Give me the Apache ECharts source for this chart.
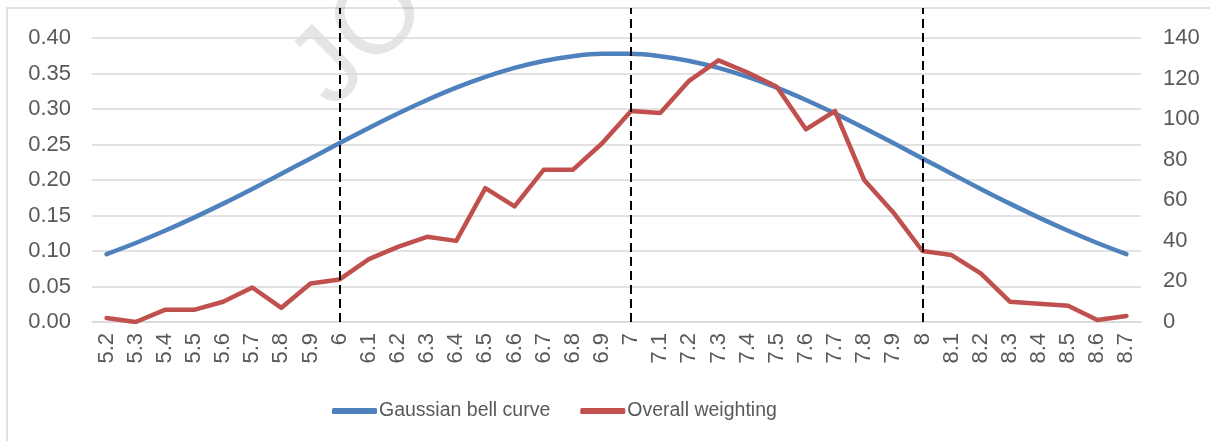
<!DOCTYPE html>
<html>
<head>
<meta charset="utf-8">
<script src="https://cdn.jsdelivr.net/npm/echarts@6/dist/echarts.min.js"></script>
<style>
html,body{margin:0;padding:0;background:#fff;}
#c{width:1210px;height:441px;}
</style>
</head>
<body>
<div id="c"></div>
<script>
const categories = ['5.2','5.3','5.4','5.5','5.6','5.7','5.8','5.9','6','6.1','6.2','6.3','6.4','6.5','6.6','6.7','6.8','6.9','7','7.1','7.2','7.3','7.4','7.5','7.6','7.7','7.8','7.9','8','8.1','8.2','8.3','8.4','8.5','8.6','8.7'];
const gaussian = [0.0955,0.1113,0.1285,0.1470,0.1667,0.1874,0.2088,0.2304,0.2521,0.2733,0.2937,0.3127,0.3300,0.3452,0.3579,0.3676,0.3743,0.3777,0.3777,0.3743,0.3676,0.3579,0.3452,0.3300,0.3127,0.2937,0.2733,0.2521,0.2304,0.2088,0.1874,0.1667,0.1470,0.1285,0.1113,0.0955];
const weighting = [2,0,6,6,10,17,7,19,21,31,37,42,40,66,57,75,75,88,104,103,119,129,123,116,95,104,70,54,35,33,24,10,9,8,1,3];
const dividers = ['6','7','8'];
const leftTicks = {min:0, max:0.40, interval:0.05};
const rightTicks = {min:0, max:140, interval:20};

const chart = echarts.init(document.getElementById('c'), null, {renderer:'canvas'});
const txt = '#595959';
const font = 'Arial, "Liberation Sans", sans-serif';
chart.setOption({
  animation:false,
  backgroundColor:'#fff',
  graphic:[
    {type:'rect', z:-10, silent:true, shape:{x:7, y:8, width:1300, height:500}, style:{fill:'none', stroke:'#D9D9D9', lineWidth:1.5}},
    {type:'text', z:-5, silent:true, x:272, y:50, rotation:Math.PI/4,
     style:{text:'JOURNAL PRE-PROOF', font:'110px Arial, "Liberation Sans", sans-serif', fill:'rgba(0,0,0,0.10)', align:'left', verticalAlign:'top'}}
  ],
  legend:{
    left:327, top:396, itemWidth:45, itemHeight:6, itemGap:30,
    icon:'roundRect',
    textStyle:{color:txt, fontSize:19.5, fontFamily:font, padding:[0,0,0,-3]},
    data:['Gaussian bell curve','Overall weighting']
  },
  grid:[
    {left:92, right:69, top:38, bottom:119},
    {left:92, right:69, top:8, bottom:119}
  ],
  xAxis:[
    {type:'category', gridIndex:0, data:categories, boundaryGap:true,
     axisLine:{show:true, lineStyle:{color:'#D9D9D9', width:1.5}},
     axisTick:{show:false},
     axisLabel:{rotate:90, interval:0, color:txt, fontSize:22, fontFamily:font, margin:11}},
    {type:'category', gridIndex:1, data:categories, boundaryGap:true, show:false}
  ],
  yAxis:[
    {type:'value', gridIndex:0, position:'left', min:leftTicks.min, max:leftTicks.max, interval:leftTicks.interval,
     axisLine:{show:false}, axisTick:{show:false},
     splitLine:{lineStyle:{color:'#D9D9D9', width:1.5}},
     axisLabel:{color:txt, fontSize:22, fontFamily:font, margin:21, formatter:v=>v.toFixed(2)}},
    {type:'value', gridIndex:0, position:'right', min:rightTicks.min, max:rightTicks.max, interval:rightTicks.interval,
     axisLine:{show:false}, axisTick:{show:false}, splitLine:{show:false},
     axisLabel:{color:txt, fontSize:22, fontFamily:font, margin:22}},
    {type:'value', gridIndex:1, show:false, min:0, max:1}
  ],
  series:[
    {name:'Gaussian bell curve', type:'line', xAxisIndex:0, yAxisIndex:0, data:gaussian,
     smooth:0.3, symbol:'none', color:'#4F81BD', z:3,
     lineStyle:{width:4.5, color:'#4F81BD', cap:'round', join:'round'}},
    {name:'Overall weighting', type:'line', xAxisIndex:0, yAxisIndex:1, data:weighting,
     symbol:'none', color:'#C0504D', z:4,
     lineStyle:{width:4.5, color:'#C0504D', cap:'round', join:'round'}},
    {name:'dividers', type:'line', xAxisIndex:1, yAxisIndex:2, data:[], symbol:'none', silent:true, z:5,
     markLine:{silent:true, symbol:'none', animation:false, label:{show:false},
       lineStyle:{color:'#000', width:2, type:[9,5]},
       emphasis:{disabled:true},
       data:dividers.map(d=>({xAxis:d}))}}
  ]
});
</script>
</body>
</html>
